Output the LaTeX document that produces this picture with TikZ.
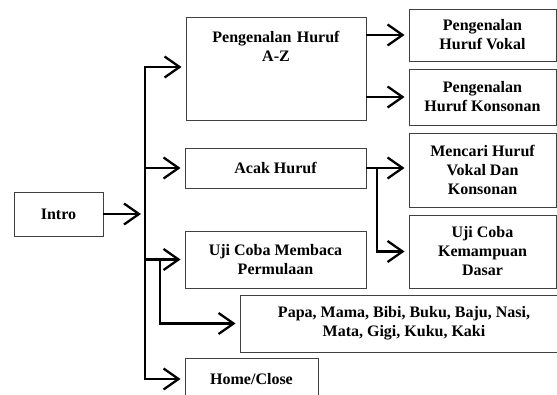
\documentclass[tikz,border=0pt]{standalone}
\usepackage{fontspec}
\setmainfont{Liberation Serif}
\usetikzlibrary{arrows.meta,positioning,calc}

\begin{document}
\begin{tikzpicture}[
  x=1pt, y=-1pt,
  box/.style={
    draw=black!75, line width=0.9pt, align=center,
    font=\fontsize{16}{19}\selectfont\bfseries, inner sep=2pt
  },
  arr/.style={-{Straight Barb[length=15pt,width=21pt]}, line width=2.3pt,
    shorten >=4pt},
  trunk/.style={line width=2.3pt, line cap=rect}
]
\path[use as bounding box, clip] (0,0) rectangle (557,394);

% Start
\node[box, minimum width=89pt, minimum height=44pt] (intro) at (58.5,214) {Intro};

% Main menu
\node[box, anchor=north, text width=176pt, inner ysep=0pt,
  text height=25pt, text depth=78pt] (az) at (276,17)
  {Pengenalan Huruf\\A-Z};
\node[box, minimum width=181pt, minimum height=40pt] (acak) at (275.5,168)
  {Acak Huruf};
\node[box, minimum width=181pt, minimum height=57pt] (ujimb) at (275.5,259.5)
  {Uji Coba Membaca\\Permulaan};
\node[box, minimum width=328pt, minimum height=57pt] (papa) at (404,323.5)
  {Papa, Mama, Bibi, Buku, Baju, Nasi,\\Mata, Gigi, Kuku, Kaki};
\node[box, minimum width=133pt, minimum height=42pt] (home) at (251.5,379)
  {Home/Close};

% Sub menu
\node[box, minimum width=147pt, minimum height=52pt] (vokal) at (482.5,35)
  {Pengenalan\\Huruf Vokal};
\node[box, minimum width=147pt, minimum height=56pt] (konsonan) at (482.5,97)
  {Pengenalan\\Huruf Konsonan};
\node[box, minimum width=147pt, minimum height=74pt] (mencari) at (482.5,170)
  {Mencari Huruf\\Vokal Dan\\Konsonan};
\node[box, minimum width=147pt, minimum height=73pt] (kemampuan) at (482.5,251.5)
  {Uji Coba\\Kemampuan\\Dasar};

% Junctions
\coordinate (jTop) at (145,67);
\coordinate (jBot) at (145,379);
\coordinate (jPapa) at (160,259.5);
\coordinate (jAcak) at (377,168);

% Trunk
\draw[trunk] (jTop) -- (jBot);
\draw[arr] (intro.east) -- (intro.east -| jTop);
\draw[arr] (jTop) -- (jTop -| az.west);
\draw[arr] (jTop |- acak.west) -- (acak.west);
\draw[arr] (jTop |- ujimb.west) -- (ujimb.west);
\draw[arr] (jPapa) |- (papa.west);
\draw[arr] (jBot) -- (home.west);

% Branches
\draw[arr] (az.east |- vokal.west) -- (vokal.west);
\draw[arr] (az.east |- konsonan.west) -- (konsonan.west);
\draw[arr] (acak.east) -- (acak.east -| mencari.west);
\draw[arr] (jAcak) |- (kemampuan.west);

\end{tikzpicture}
\end{document}
